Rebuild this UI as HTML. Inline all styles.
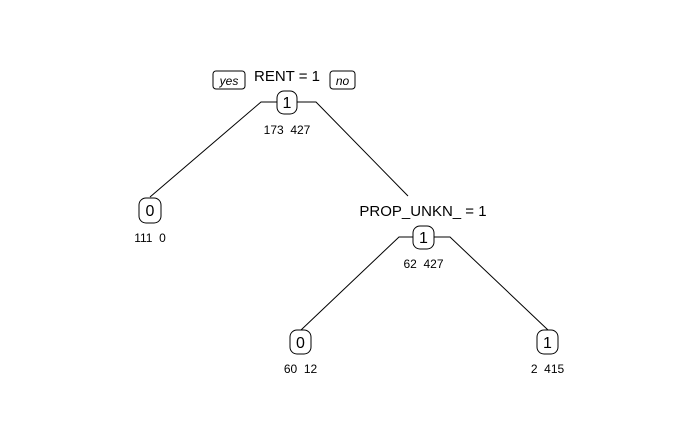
<!DOCTYPE html>
<html><head><style>
html,body{margin:0;padding:0;background:#fff;}
svg{display:block;}
text{font-family:"Liberation Sans",Arial,sans-serif;fill:#000;}
</style></head><body>
<svg width="700" height="432" viewBox="0 0 700 432" xmlns="http://www.w3.org/2000/svg">
<g stroke="#000" stroke-width="1" fill="none">
<polyline points="150,197 261,102 277,102"/>
<polyline points="297,102 316,102 408,196"/>
<polyline points="301,330 399,237 413,237"/>
<polyline points="434,237 450,237 548,330"/>
<rect x="277" y="91" width="20" height="23" rx="7" fill="#fff"/>
<rect x="139" y="198" width="22" height="25" rx="7" fill="#fff"/>
<rect x="413" y="226" width="21" height="23" rx="7" fill="#fff"/>
<rect x="290" y="330" width="21" height="24" rx="7" fill="#fff"/>
<rect x="537" y="330" width="21" height="24" rx="7" fill="#fff"/>
<rect x="213" y="71" width="32" height="18" rx="3"/>
<rect x="330" y="71" width="25" height="18" rx="3"/>
</g>
<text x="229" y="85" font-size="12" font-style="italic" text-anchor="middle">yes</text>
<text x="342.5" y="85" font-size="12" font-style="italic" text-anchor="middle">no</text>
<text x="287" y="81" font-size="15" text-anchor="middle">RENT = 1</text>
<text x="287" y="108" font-size="16" text-anchor="middle">1</text>
<text x="287" y="134" font-size="12" text-anchor="middle" xml:space="preserve">173  427</text>
<text x="150" y="216" font-size="16" text-anchor="middle">0</text>
<text x="150" y="242" font-size="12" text-anchor="middle" xml:space="preserve">111  0</text>
<text x="423" y="216" font-size="15" text-anchor="middle">PROP_UNKN_ = 1</text>
<text x="423.5" y="243" font-size="16" text-anchor="middle">1</text>
<text x="423.5" y="268" font-size="12" text-anchor="middle" xml:space="preserve">62  427</text>
<text x="300.5" y="348" font-size="16" text-anchor="middle">0</text>
<text x="300.5" y="373" font-size="12" text-anchor="middle" xml:space="preserve">60  12</text>
<text x="547.5" y="348" font-size="16" text-anchor="middle">1</text>
<text x="547.5" y="373" font-size="12" text-anchor="middle" xml:space="preserve">2  415</text>
</svg>
</body></html>
